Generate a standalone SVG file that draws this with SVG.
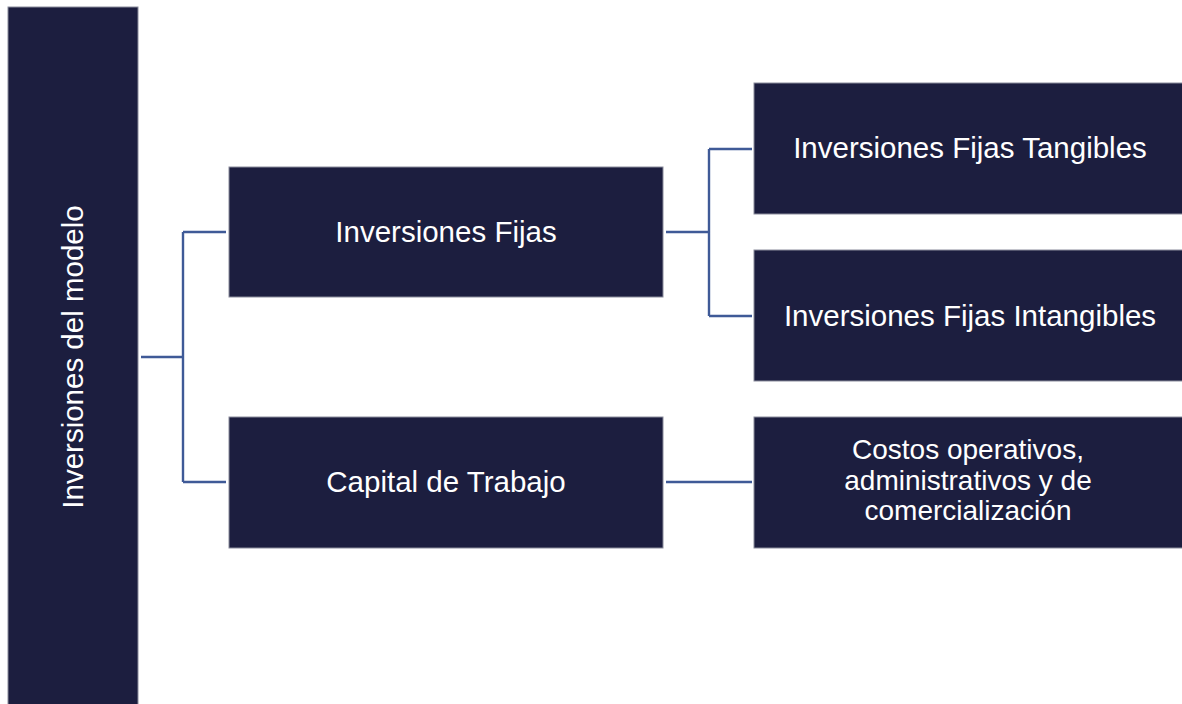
<svg xmlns="http://www.w3.org/2000/svg" width="1182" height="704" viewBox="0 0 1182 704">
<style>
.box{fill:#1c1e3f;stroke:#8a8c9c;stroke-width:1}
.t{fill:#ffffff;font-family:"Liberation Sans",Arial,sans-serif;font-size:29.5px;text-anchor:middle}
.s{font-size:28px}
.c{fill:none;stroke:#3f5a97;stroke-width:2.4}
</style>
<rect width="1182" height="704" fill="#ffffff"/>
<g id="root">
<rect class="box" x="8" y="7" width="130" height="700"/>
<text class="t" transform="translate(82.5,357) rotate(-90)" x="0" y="0">Inversiones del modelo</text>
</g>
<g id="fijas">
<rect class="box" x="229" y="167" width="434" height="130"/>
<text class="t" x="446" y="242">Inversiones Fijas</text>
</g>
<g id="capital">
<rect class="box" x="229" y="417" width="434" height="131"/>
<text class="t" x="446" y="492">Capital de Trabajo</text>
</g>
<g id="tangibles">
<rect class="box" x="754" y="83" width="430" height="131"/>
<text class="t" x="970" y="158">Inversiones Fijas Tangibles</text>
</g>
<g id="intangibles">
<rect class="box" x="754" y="250" width="430" height="131"/>
<text class="t" x="970" y="325.5">Inversiones Fijas Intangibles</text>
</g>
<g id="costos">
<rect class="box" x="754" y="417" width="430" height="131"/>
<text class="t s" x="968" y="459">Costos operativos,</text>
<text class="t s" x="968" y="489.5">administrativos y de</text>
<text class="t s" x="968" y="520">comercialización</text>
</g>
<g id="connectors">
<path class="c" d="M141 357H183M183 232V482M183 232H226M183 482H226"/>
<path class="c" d="M666 232H709M709 149V316M709 149H752M709 316H752"/>
<path class="c" d="M666 482H752"/>
</g>
</svg>
